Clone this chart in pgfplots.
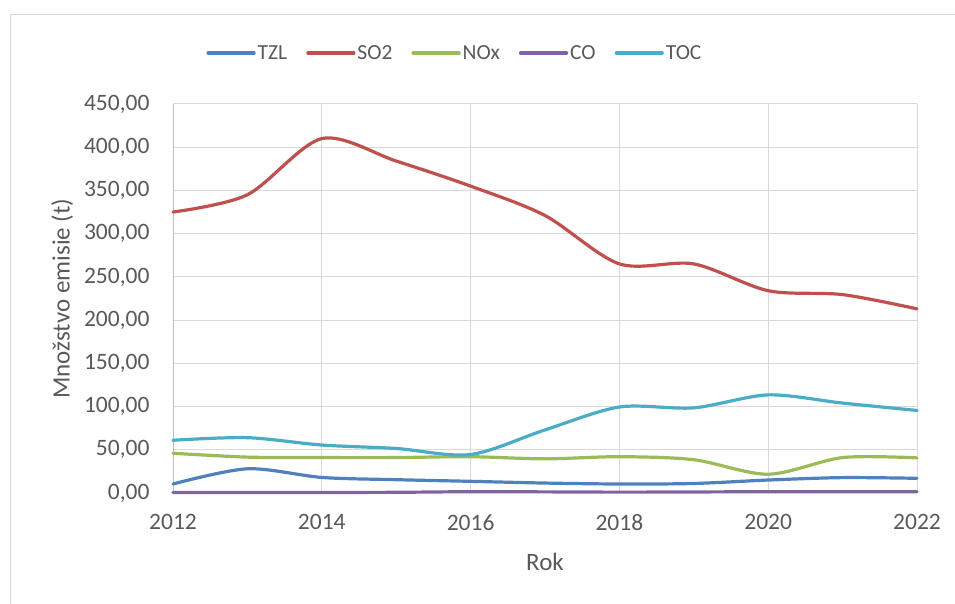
\documentclass[border=0pt]{standalone}
\usepackage{fontspec}
\setmainfont{Carlito}
\usepackage{pgfplots}
\pgfplotsset{compat=1.18}
\definecolor{cTZL}{HTML}{4F81BD}
\definecolor{cSO}{HTML}{C0504D}
\definecolor{cNO}{HTML}{9BBB59}
\definecolor{cCO}{HTML}{8064A2}
\definecolor{cTOC}{HTML}{4BACC6}
\definecolor{txt}{HTML}{595959}
\definecolor{gridc}{HTML}{D9D9D9}
\definecolor{axc}{HTML}{BFBFBF}
\begin{document}
\begin{tikzpicture}[x=1pt,y=1pt]
\useasboundingbox (0,0) rectangle (955,604);
\draw[gridc, line width=1pt] (10,0) -- (10,589) -- (955,589);
\begin{axis}[
  at={(173pt,111pt)}, anchor=south west,
  scale only axis, width=744pt, height=389pt,
  xmin=2012, xmax=2022, ymin=0, ymax=450,
  xtick={2012,2014,...,2022}, ytick={0,50,...,450},
  grid=major, major grid style={gridc, line width=1pt},
  axis x line*=bottom, axis y line*=left,
  axis line style={axc, line width=1pt, -},
  major tick length=0pt,
  tick label style={font=\fontsize{23.5}{28}\selectfont, text=txt},
  /pgf/number format/assume math mode=true,
  x tick label style={/pgf/number format/1000 sep={}, yshift=-18pt},
  y tick label style={/pgf/number format/.cd, fixed, fixed zerofill, precision=2, use comma, 1000 sep={}, /tikz/.cd, xshift=-20pt},
  xlabel={Rok}, ylabel={Množstvo emisie (t)},
  label style={font=\fontsize{25}{30}\selectfont, text=txt},
  xlabel style={at={(axis description cs:0.5,-0.177)}, anchor=center},
  ylabel style={at={(axis description cs:-0.149,0.5)}, anchor=center, rotate=0},
  legend columns=5,
  legend style={at={(axis description cs:0.379,1.131)}, anchor=center, draw=none, fill=none,
    font=\fontsize{21.5}{26}\selectfont, text=txt, inner sep=0pt,
    nodes={inner sep=2pt},
    /tikz/every even column/.append style={column sep=17pt}},
  legend image code/.code={\draw[#1] (0pt,0pt) -- (46pt,0pt);},
  every axis plot/.append style={line width=3.2pt, smooth, tension=0.5, line cap=round},
  clip=false,
]
\addplot[cTZL] coordinates {(2012,10.4) (2013,28) (2014,18) (2015,15.4) (2016,13.5) (2017,11.5) (2018,10.4) (2019,11) (2020,15) (2021,17.8) (2022,17)};
\addlegendentry{TZL}
\addplot[cSO] coordinates {(2012,325) (2013,345) (2014,410) (2015,384) (2016,355) (2017,321) (2018,265) (2019,265) (2020,234) (2021,229.5) (2022,213)};
\addlegendentry{SO2}
\addplot[cNO] coordinates {(2012,46) (2013,41.5) (2014,41) (2015,41) (2016,42) (2017,39.5) (2018,42) (2019,38.5) (2020,21.7) (2021,41) (2022,40.6)};
\addlegendentry{NOx}
\addplot[cCO] coordinates {(2012,0.5) (2013,0.5) (2014,0.6) (2015,0.8) (2016,1.5) (2017,1.3) (2018,1.0) (2019,1.2) (2020,1.5) (2021,1.5) (2022,1.4)};
\addlegendentry{CO}
\addplot[cTOC] coordinates {(2012,61) (2013,64) (2014,55.5) (2015,51.5) (2016,44.5) (2017,73) (2018,99.5) (2019,98.5) (2020,113.5) (2021,104) (2022,95.5)};
\addlegendentry{TOC}
\end{axis}
\end{tikzpicture}
\end{document}
